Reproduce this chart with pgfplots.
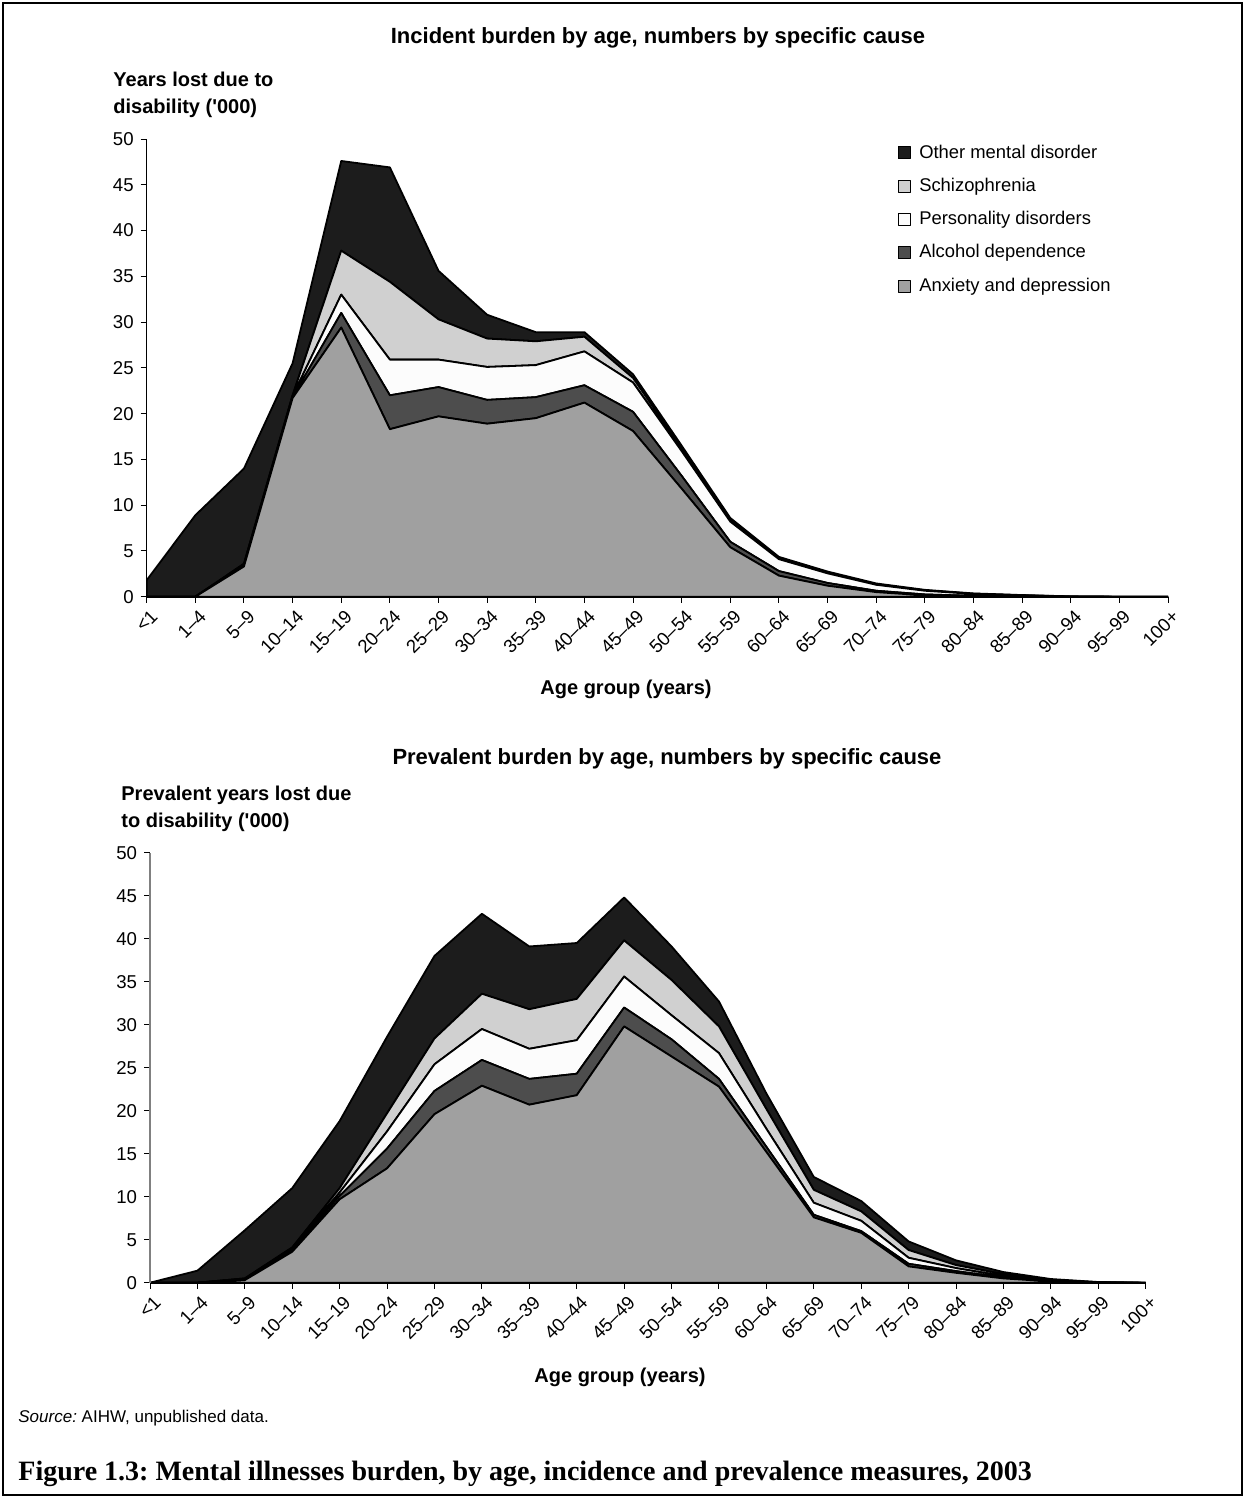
\documentclass[border=0pt]{standalone}
\usepackage{pgfplots}
\pgfplotsset{compat=1.18}
\usepackage{pgfplotstable}
\usepackage{fontspec}
\setmainfont{Liberation Sans}
\newfontfamily\capfont{Liberation Serif}
\frenchspacing

% increments per cause (stacked: anxiety at the bottom)
\pgfplotstableread{
x anx  alc  pers schiz other
0  0    0    0    0    1.8
1  0    0    0    0    8.9
2  3.3  0.1  0.1  0.1  10.4
3  21.7 0.1  0.1  0.1  3.5
4  29.4 1.6  2.0  4.8  9.8
5  18.3 3.7  3.9  8.5  12.5
6  19.7 3.2  3.0  4.4  5.3
7  18.9 2.6  3.6  3.1  2.6
8  19.5 2.3  3.5  2.6  1.0
9  21.2 1.9  3.7  1.6  0.5
10 18.1 2.1  3.2  0.5  0.4
11 11.8 1.4  2.7  0.3  0.3
12 5.4  0.6  2.2  0.15 0.25
13 2.3  0.5  1.3  0.1  0.15
14 1.2  0.3  1.05 0.1  0.1
15 0.5  0.15 0.65 0.05 0.1
16 0.15 0.1  0.4  0.05 0.05
17 0.05 0.05 0.2  0.03 0.03
18 0.02 0.01 0.11 0.02 0.02
19 0    0    0.02 0.01 0.01
20 0    0    0    0    0
21 0    0    0    0    0
}\incident

\pgfplotstableread{
x anx  alc  pers schiz other
0  0    0    0    0    0
1  0    0    0    0    1.4
2  0.3  0.1  0.05 0.05 5.6
3  3.6  0.3  0.1  0.1  6.9
4  9.7  0.4  0.4  0.5  7.8
5  13.3 2.3  2.0  2.1  8.9
6  19.6 2.7  3.1  3.0  9.6
7  22.9 3.0  3.6  4.1  9.3
8  20.7 3.0  3.5  4.6  7.3
9  21.8 2.5  3.9  4.8  6.5
10 29.8 2.2  3.6  4.2  5.0
11 26.3 2.0  2.8  4.1  3.9
12 22.8 0.9  3.0  3.1  2.9
13 15.2 0.6  2.1  2.3  1.8
14 7.6  0.3  1.4  1.5  1.5
15 5.8  0.2  1.2  1.1  1.2
16 1.9  0.3  0.7  0.9  1.0
17 1.15 0.2  0.35 0.35 0.55
18 0.5  0.1  0.18 0.22 0.24
19 0.15 0.05 0.08 0.07 0.08
20 0.02 0.01 0.02 0.01 0.02
21 0    0    0    0    0
}\prevalent

\definecolor{anxc}{HTML}{A0A0A0}
\definecolor{alcc}{HTML}{4D4D4D}
\definecolor{persc}{HTML}{FCFCFC}
\definecolor{schizc}{HTML}{D0D0D0}
\definecolor{otherc}{HTML}{1C1C1C}

\pgfplotsset{
  burden/.style={
    scale only axis,
    anchor=south west,
    axis on top,
    stack plots=y,
    xmin=0, xmax=21,
    ymin=0, ymax=50,
    ytick={0,5,...,50},
    xtick={0,...,21},
    xticklabels={<1,1–4,5–9,10–14,15–19,20–24,25–29,30–34,35–39,40–44,45–49,50–54,55–59,60–64,65–69,70–74,75–79,80–84,85–89,90–94,95–99,100+},
    axis x line*=bottom,
    axis y line*=left,
    tick align=outside,
    major tick length=3bp,
    tick style={black, line width=0.5bp},
    x axis line style={line width=1.1bp},
    /pgf/number format/assume math mode=true,
    ticklabel style={font=\fontsize{9.3bp}{11bp}\selectfont},
    xticklabel style={rotate=45, anchor=north east, inner sep=1bp, yshift=-2bp},
    every axis plot/.append style={draw=black, line width=0.9bp, line join=round},
    legend image code/.code={\draw[#1, line width=0.6bp] (0bp,-3bp) rectangle (6bp,3bp); \path (8.5bp,0bp);},
  }
}

\begin{document}
\begin{tikzpicture}
\path (0,0) rectangle (622bp,-748.5bp);
\draw[line width=1bp] (1.25bp,-1.25bp) rectangle (620.75bp,-747.25bp);

% incident burden
\node[font=\bfseries\fontsize{11bp}{13bp}\selectfont] at (329bp,-19bp) {Incident burden by age, numbers by specific cause};
\node[anchor=north west, align=left, font=\bfseries\fontsize{10bp}{13.5bp}\selectfont, inner sep=0pt] at (56.5bp,-36bp) {Years lost due to\\disability (\textquotesingle 000)};
\begin{axis}[burden,
  at={(73.35bp,-298.35bp)}, width=510.65bp, height=228.85bp,
  y axis line style={line width=0.6bp},
  legend style={at={(0.735,0.995)}, anchor=north west, draw=none, fill=none,
    font=\fontsize{9.2bp}{11bp}\selectfont, row sep=5.5bp, inner sep=0pt,
    nodes={inner sep=1.5bp}},
  legend cell align=left,
  reverse legend,
]
\addplot[fill=anxc] table[x=x,y=anx] {\incident} \closedcycle;
\addlegendentry{Anxiety and depression}
\addplot[fill=alcc] table[x=x,y=alc] {\incident} \closedcycle;
\addlegendentry{Alcohol dependence}
\addplot[fill=persc] table[x=x,y=pers] {\incident} \closedcycle;
\addlegendentry{Personality disorders}
\addplot[fill=schizc] table[x=x,y=schiz] {\incident} \closedcycle;
\addlegendentry{Schizophrenia}
\addplot[fill=otherc] table[x=x,y=other] {\incident} \closedcycle;
\addlegendentry{Other mental disorder}
\end{axis}
\node[font=\bfseries\fontsize{10bp}{12bp}\selectfont] at (313bp,-344.5bp) {Age group (years)};

% prevalent burden
\node[font=\bfseries\fontsize{11bp}{13bp}\selectfont] at (333.5bp,-379.5bp) {Prevalent burden by age, numbers by specific cause};
\node[anchor=north west, align=left, font=\bfseries\fontsize{10bp}{13.5bp}\selectfont, inner sep=0pt] at (60.5bp,-393bp) {Prevalent years lost due\\to disability (\textquotesingle 000)};
\begin{axis}[burden,
  at={(75bp,-641.35bp)}, width=497.85bp, height=215bp,
  y axis line style={line width=0.6bp, draw=gray},
]
\addplot[fill=anxc] table[x=x,y=anx] {\prevalent} \closedcycle;
\addplot[fill=alcc] table[x=x,y=alc] {\prevalent} \closedcycle;
\addplot[fill=persc] table[x=x,y=pers] {\prevalent} \closedcycle;
\addplot[fill=schizc] table[x=x,y=schiz] {\prevalent} \closedcycle;
\addplot[fill=otherc] table[x=x,y=other] {\prevalent} \closedcycle;
\end{axis}
\node[font=\bfseries\fontsize{10bp}{12bp}\selectfont] at (310bp,-688.5bp) {Age group (years)};

\node[anchor=west, font=\fontsize{8.5bp}{10bp}\selectfont, inner sep=0pt] at (9bp,-709bp) {\textit{Source:} AIHW, unpublished data.};
\node[anchor=west, font=\capfont\bfseries\fontsize{14bp}{16bp}\selectfont, inner sep=0pt] at (9bp,-737bp) {Figure 1.3: Mental illnesses burden, by age, incidence and prevalence measures, 2003};
\end{tikzpicture}
\end{document}
